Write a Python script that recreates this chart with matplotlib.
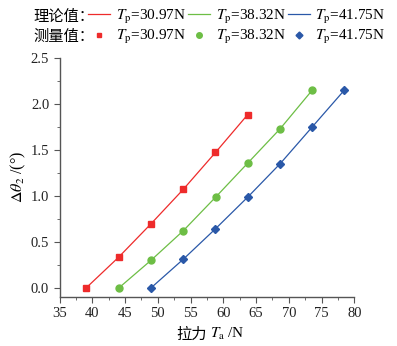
import matplotlib.pyplot as plt
import numpy as np
from matplotlib.lines import Line2D
from matplotlib.ticker import MultipleLocator

plt.rcParams['font.family'] = ['Liberation Serif', 'Noto Sans CJK SC']
plt.rcParams['mathtext.fontset'] = 'stix'

# data
labels = ['$T_\\mathrm{p}$=30.97N', '$T_\\mathrm{p}$=38.32N', '$T_\\mathrm{p}$=41.75N']
x_red = [39.1, 44.0, 48.9, 53.9, 58.8, 63.7]
y_red = [0.0, 0.33, 0.69, 1.07, 1.47, 1.88]
x_green = [44.1, 49.0, 53.9, 58.9, 63.8, 68.7, 73.6]
y_green = [0.0, 0.30, 0.62, 0.99, 1.36, 1.73, 2.15]
x_blue = [49.0, 53.9, 58.8, 63.8, 68.7, 73.6, 78.5]
y_blue = [0.0, 0.31, 0.64, 0.99, 1.35, 1.75, 2.15]

colors = ['#EE2B2B', '#6DBE45', '#2A58A8']
markers = ['s', 'o', 'D']
msizes = [4.5, 5, 4.5]

fig = plt.figure(figsize=(3.97, 3.46), dpi=100)
ax = fig.add_axes([0.150, 0.142, 0.7425, 0.691])

series = [(x_red, y_red), (x_green, y_green), (x_blue, y_blue)]
for (xs, ys), c, m, ms in zip(series, colors, markers, msizes):
    ax.plot(xs, ys, '-', color=c, lw=0.9)
    ax.plot(xs, ys, m, color=c, ms=ms, mec=c)

ax.set_xlim(35, 80)
ax.set_ylim(-0.1, 2.5)
ax.xaxis.set_major_locator(MultipleLocator(5))
ax.xaxis.set_minor_locator(MultipleLocator(2.5))
ax.yaxis.set_major_locator(MultipleLocator(0.5))
ax.yaxis.set_minor_locator(MultipleLocator(0.25))
ax.yaxis.set_major_formatter(plt.FormatStrFormatter('%.1f'))
for s in ['top', 'right']:
    ax.spines[s].set_visible(False)
for s in ['left', 'bottom']:
    ax.spines[s].set_color('#555555')
    ax.spines[s].set_linewidth(1.0)
ax.tick_params(which='both', direction='out', colors='#555555', labelcolor='#222222',
               labelsize=10.5)
ax.tick_params(which='major', length=4)
ax.tick_params(which='minor', length=2.5)

# x label: CJK part as plain text, symbol part as mathtext
fig.text(0.520, 0.022, '拉力', fontsize=11, ha='right', va='baseline')
fig.text(0.528, 0.022, '$T_\\mathrm{a}$ /N', fontsize=11, ha='left', va='baseline')
ax.set_ylabel('$\\Delta\\theta_2$ /(°)', fontsize=11.5, labelpad=2)

# legend
line_h = [Line2D([], [], color=c, lw=0.9) for c in colors]
mark_h = [Line2D([], [], ls='', marker=m, color=c, ms=ms - 1) for c, m, ms in zip(colors, markers, msizes)]
kw = dict(ncol=3, loc='center left', frameon=False, fontsize=11, handlelength=1.45,
          handletextpad=0.35, columnspacing=0.15, borderaxespad=0, borderpad=0)
leg1 = fig.legend(line_h, labels, bbox_to_anchor=(0.222, 0.952), **kw)
leg2 = fig.legend(mark_h, labels, bbox_to_anchor=(0.222, 0.892), **kw)
fig.text(0.083, 0.952, '理论值：', fontsize=11, va='center', ha='left')
fig.text(0.083, 0.892, '测量值：', fontsize=11, va='center', ha='left')

fig.savefig('out.png', dpi=100)
